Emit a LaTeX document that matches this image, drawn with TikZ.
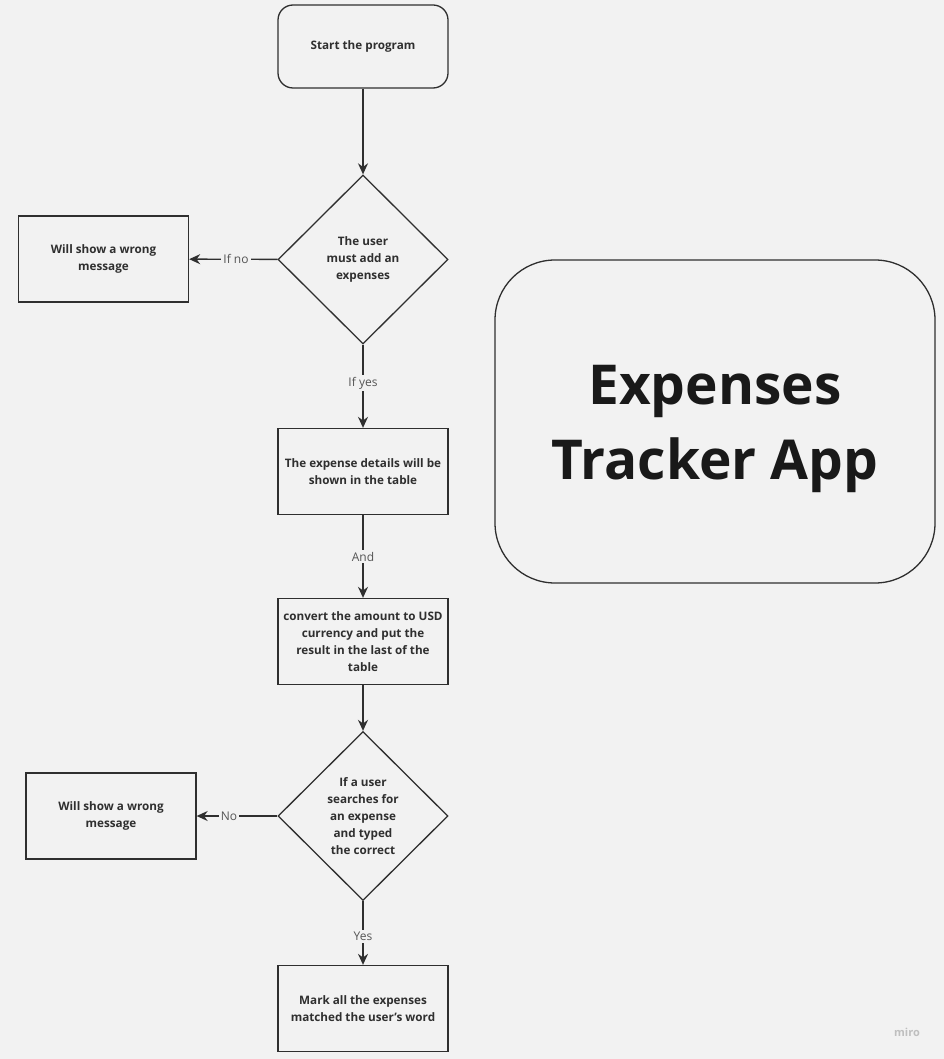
\documentclass[tikz,border=0pt]{standalone}
\usepackage{fontspec}
\setmainfont{Open Sans}
\usetikzlibrary{shapes.geometric,arrows.meta}
\definecolor{paper}{HTML}{F2F2F2}
\definecolor{ink}{HTML}{2F2F2F}
\definecolor{lbl}{HTML}{555555}
\tikzset{
  every node/.style={font=\fontsize{11.7}{17}\selectfont\bfseries, text=ink, align=center},
  stepbox/.style={draw=ink, line width=1.3pt, minimum width=170pt, minimum height=86pt, inner sep=2pt},
  startbox/.style={stepbox, rounded corners=15pt, minimum height=83pt},
  choice/.style={draw=ink, line width=1.3pt, diamond, minimum width=170pt, minimum height=169pt, inner sep=0pt, aspect=1},
  arrowlabel/.style={font=\fontsize{12}{14}\selectfont, text=lbl, fill=paper, inner sep=2pt},
}
\begin{document}
\begin{tikzpicture}[x=1pt, y=-1pt]
      \fill[paper] (0,0) rectangle (944,1059);
      \useasboundingbox (0,0) rectangle (944,1059);
      \draw
        (363,46.5) node[startbox] (start){Start the program}
        (363,259.5) node[choice] (add){The user\\must add an\\expenses}
        (103.5,259) node[stepbox] (wrong1){Will show a wrong\\message}
        (363,471.5) node[stepbox] (table){The expense details will be\\shown in the table}
        (363,641.5) node[stepbox] (convert){convert the amount to USD\\currency and put the\\result in the last of the\\table}
        (363,816) node[choice] (search){If a user\\searches for\\an expense\\and typed\\the correct}
        (111,816) node[stepbox] (wrong2){Will show a wrong\\message}
        (363,1008.5) node[stepbox] (mark){Mark all the expenses\\matched the user's word};
      \draw[draw=ink, line width=1.3pt, rounded corners=60pt] (495,260) rectangle (935,583);
      \node[font=\fontsize{55}{75}\selectfont\bfseries, text=black!90] (title) at (715,429) {Expenses\\Tracker App};
      \node[font=\fontsize{11}{13}\selectfont\bfseries, text=black!25] (miro) at (907,1032) {miro};
      \begin{scope}[-{Stealth[length=11pt,width=10pt]}, draw=ink, line width=1.4pt]
        \draw (start) to (add);
        \draw (add) to node[arrowlabel, pos=0.47]{If no} (wrong1);
        \draw (add) to node[arrowlabel, pos=0.46]{If yes} (table);
        \draw (table) to node[arrowlabel]{And} (convert);
        \draw (convert) to (search);
        \draw (search) to node[arrowlabel, pos=0.6]{No} (wrong2);
        \draw (search) to node[arrowlabel, pos=0.55]{Yes} (mark);
      \end{scope}
    \end{tikzpicture}
\end{document}
